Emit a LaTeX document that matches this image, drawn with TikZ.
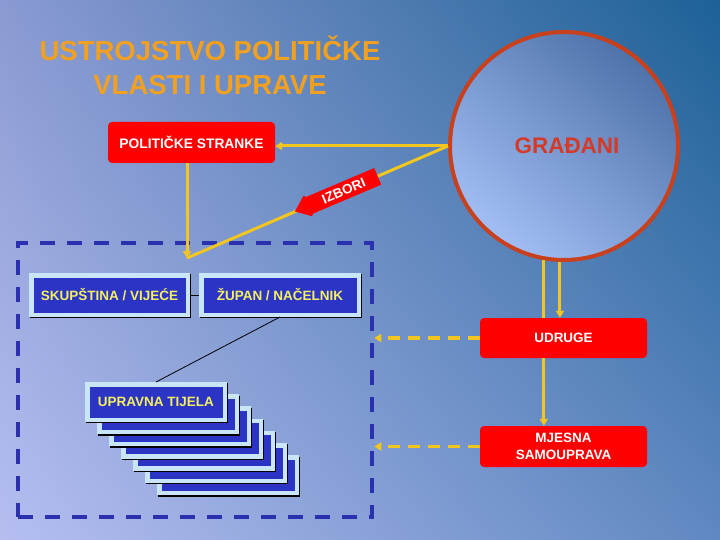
\documentclass[tikz,border=0pt]{standalone}
\usepackage{fontspec}
\setmainfont{Liberation Sans}
\usetikzlibrary{arrows.meta,calc,shadings}
\definecolor{bgTL}{HTML}{8A9AD2}
\definecolor{bgTR}{HTML}{1C6196}
\definecolor{bgBL}{HTML}{B6BEF0}
\definecolor{bgBR}{HTML}{6088C2}
\definecolor{titleor}{HTML}{F2A020}
\definecolor{circbrd}{HTML}{C8401C}
\definecolor{circdark}{HTML}{4E72AA}
\definecolor{circlight}{HTML}{A2BEF4}
\definecolor{gradtxt}{HTML}{D43A26}
\definecolor{yl}{HTML}{F2C61E}
\definecolor{boxblue}{HTML}{2B34C4}
\definecolor{frameblue}{HTML}{C8E6F8}
\definecolor{boxyellow}{HTML}{F4F060}
\definecolor{dashblue}{HTML}{2A30AE}
\definecolor{redfill}{HTML}{FF0000}
\tikzset{
  redbox/.style={fill=redfill, rounded corners=4pt, text=white, align=center, inner sep=0pt,
    font=\bfseries\fontsize{13.5}{17}\selectfont},
  bluebox/.style={fill=boxblue, draw=frameblue, line width=4.5pt, text=boxyellow, inner sep=0pt,
    font=\bfseries\fontsize{13.5}{16}\selectfont,
    preaction={draw=black, line width=4.5pt, transform canvas={shift={(1.3pt,-1.3pt)}}}},
  yline/.style={draw=yl, line width=3pt},
  ytip/.style={-{Triangle[length=7pt,width=8pt]}},
  ydash/.style={draw=yl, line width=3.5pt, dash pattern=on 12pt off 8pt},
}
\begin{document}
\begin{tikzpicture}[x=1pt,y=-1pt]
\shade[upper left=bgTL, upper right=bgTR, lower left=bgBL, lower right=bgBR] (0,0) rectangle (720,540);
\useasboundingbox (0,0) rectangle (720,540);

% title
\node[font=\bfseries\fontsize{27.5}{34}\selectfont, text=titleor, align=center] (title) at (210,65) {USTROJSTVO POLITIČKE\\VLASTI I UPRAVE};

% citizens circle
\node[circle, minimum size=228pt, inner sep=0pt, draw=circbrd, line width=4pt,
  top color=circdark, bottom color=circlight, shading angle=-40,
  text=gradtxt, font=\bfseries\fontsize{22.5}{22.5}\selectfont] (grad) at (564,146) {\hspace*{6pt}GRAĐANI};

% political parties
\node[redbox, minimum width=167pt, minimum height=41pt, font=\bfseries\fontsize{13.8}{16}\selectfont] (ps) at (191.5,142.5) {POLITIČKE STRANKE};

% dashed frame
\node[draw=dashblue, line width=4.5pt, dash pattern=on 15pt off 12pt, minimum width=354pt, minimum height=274pt, inner sep=0pt] (frame) at (195,380) {};

\coordinate (jb) at (187,258);
\draw[yline, ytip] (grad.west) -- (grad.west -| ps.east);
\draw[yline] (grad.west) -- (jb);
\draw[yline, ytip] (jb |- ps.south) -- (jb);

% IZBORI arrow
\coordinate (izc) at ($(grad.west)!0.428!(jb)$);
\begin{scope}[shift={(izc)}, rotate=23]
  \fill[redfill] (-45,0) -- (-31,-11) -- (-29,-9) -- (45,-9) -- (45,9) -- (-29,9) -- (-31,11) -- cycle;
  \node[rotate=23, text=white, font=\bfseries\fontsize{13.5}{13.5}\selectfont, inner sep=0pt] (izb) at (8,0) {IZBORI};
\end{scope}

% government boxes
\node[bluebox, minimum width=156.5pt, minimum height=39.5pt] (skup) at (109.5,295) {SKUPŠTINA / VIJEĆE};
\node[bluebox, minimum width=157.5pt, minimum height=39.5pt] (zupan) at (280,295) {ŽUPAN / NAČELNIK};
\draw[black, line width=0.8pt] (skup.east) -- (zupan.west);

% administrative bodies stack
\foreach \i in {6,5,4,3,2,1}{
  \node[bluebox, minimum width=137.5pt, minimum height=35.5pt] (upr\i) at ({156+12*\i},{402+12.2*\i}) {};
}
\node[bluebox, minimum width=137.5pt, minimum height=35.5pt] (upr0) at (156,402) {UPRAVNA TIJELA};
\draw[black, line width=0.8pt] (zupan.south) -- (upr0.north);

% associations and local self-government
\node[redbox, minimum width=167pt, minimum height=40pt] (udr) at (563.5,338) {UDRUGE};
\node[redbox, minimum width=167pt, minimum height=41pt] (mjes) at (563.5,446.5) {MJESNA\\SAMOUPRAVA};

\draw[yline] (grad.260) -- (grad.260 |- udr.north);
\draw[yline, ytip] (grad.268.5) -- (grad.268.5 |- udr.north);
\draw[yline, ytip] (udr.south -| grad.260) -- (mjes.north -| grad.260);

\draw[ydash, ytip] (udr.west) -- (udr.west -| frame.east);
\draw[ydash, ytip] (mjes.west) -- (mjes.west -| frame.east);
\end{tikzpicture}
\end{document}
